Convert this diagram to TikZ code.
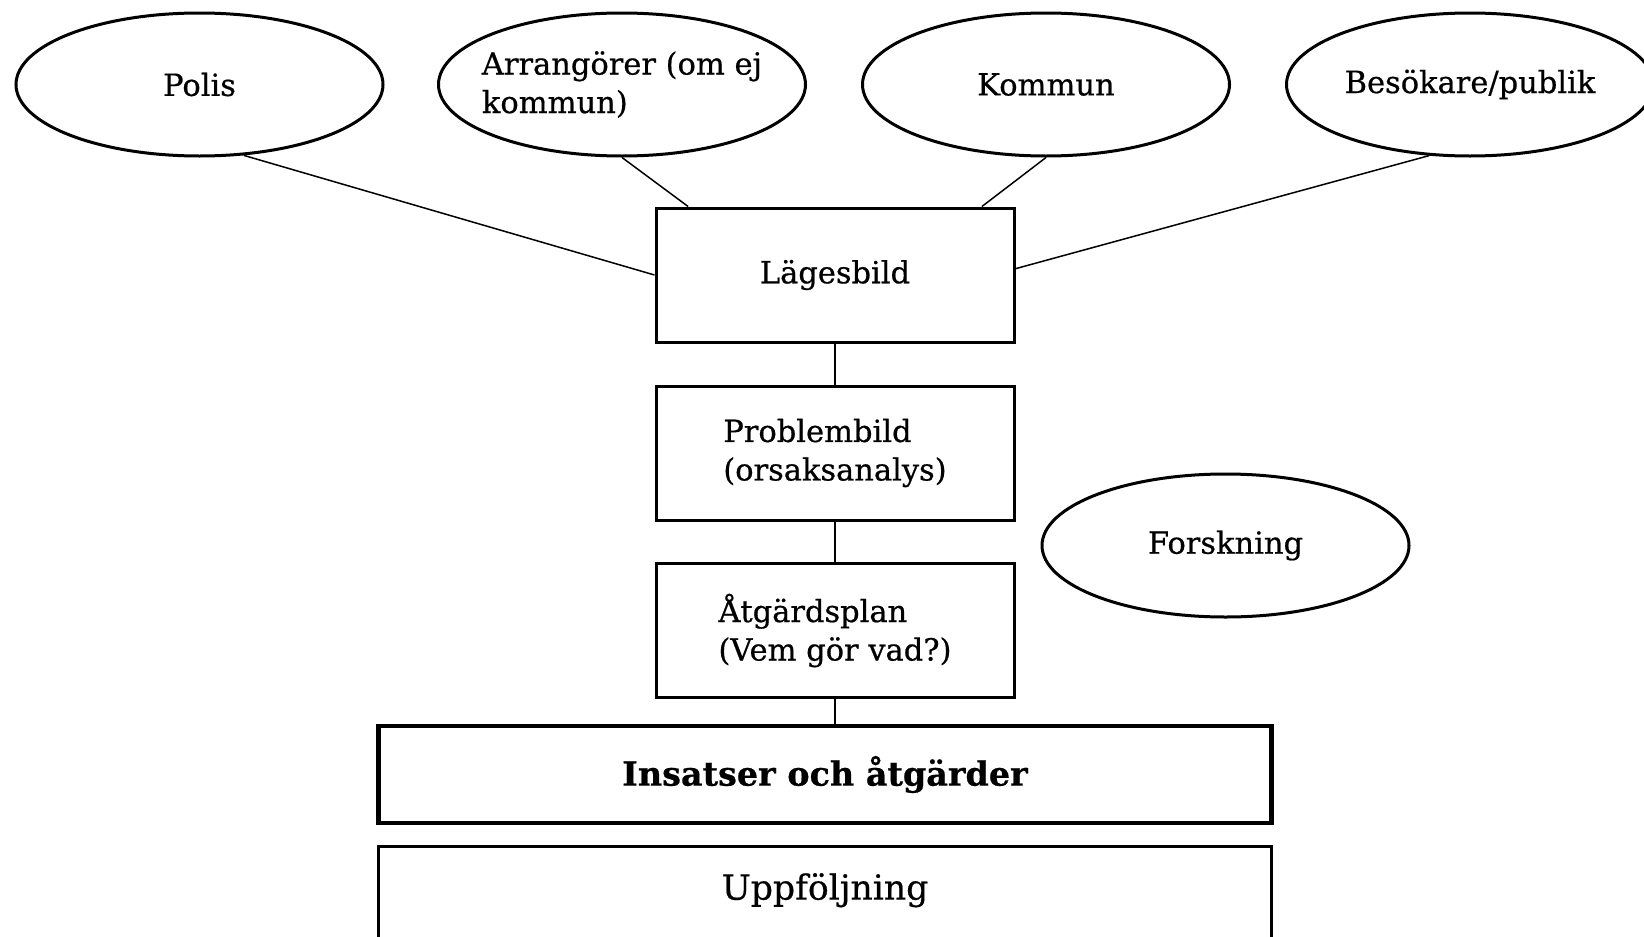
\documentclass[tikz,border=0pt]{standalone}
\usepackage{fontspec}
\setmainfont{DejaVu Serif}[FakeBold=0.6]
\usetikzlibrary{shapes.geometric}
\begin{document}
\begin{tikzpicture}[x=1pt,y=-1pt,
  ell/.style={draw, ellipse, line width=3pt, minimum width=367pt, minimum height=143pt, inner xsep=-30pt, inner ysep=0pt, font=\fontsize{30.5}{38.5}\selectfont, align=left},
  stepbox/.style={draw, rectangle, line width=3pt, minimum width=358pt, minimum height=134pt, font=\fontsize{30.5}{38.5}\selectfont, align=left},
  bigbox/.style={draw, rectangle, minimum width=893pt},
  conn/.style={line width=1.5pt}]
\useasboundingbox (0,0) rectangle (1644,937);
\node[ell] (polis) at (199.5,84.5) {Polis};
\node[ell] (arr) at (622,84.5) {Arrangörer (om ej\\kommun)};
\node[ell] (kommun) at (1046,84.5) {Kommun};
\node[ell] (besok) at (1470,84.5) {Besökare/publik};
\node[ell] (forsk) at (1225.5,545.5) {Forskning};
\node[stepbox] (lag) at (835,275) {Lägesbild};
\node[stepbox] (prob) at (835,453) {Problembild\\(orsaksanalys)};
\node[stepbox] (atg) at (835,630.5) {Åtgärdsplan\\(Vem gör vad?)};
\node[bigbox, line width=4.8pt, minimum height=97pt, font=\fontsize{33.4}{40}\selectfont\bfseries] (ins) at (825,774.5) {Insatser och åtgärder};
\node[bigbox, line width=3.2pt, anchor=north, inner ysep=0pt, text height=53pt, text depth=62pt, font=\fontsize{34.6}{40}\selectfont] (upp) at (825,845) {Uppföljning};
\draw[conn] (polis.-58) -- (lag.west);
\draw[conn] (arr.south) -- (lag.155.5);
\draw[conn] (kommun.south) -- (lag.25);
\draw[conn] (besok.-120.6) -- (lag.2);
\draw[conn] (lag.south) -- (prob.north);
\draw[conn] (prob.south) -- (atg.north);
\draw[line width=2.8pt] (atg.south) -- (atg.south |- ins.north);
\end{tikzpicture}
\end{document}
